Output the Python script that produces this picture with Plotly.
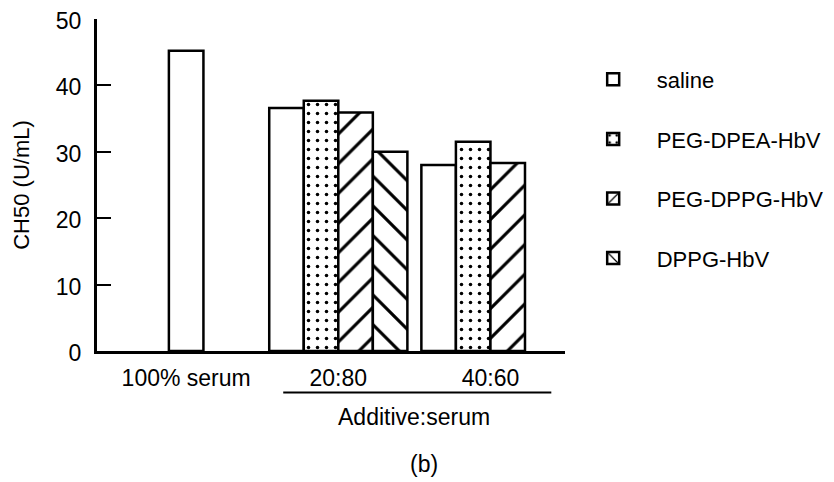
import plotly.graph_objects as go

categories = ["100% serum", "20:80", "40:60"]
series_names = ["saline", "PEG-DPEA-HbV", "PEG-DPPG-HbV", "DPPG-HbV"]
saline = [45.2, 36.6, 28.0]
peg_dpea_x = ["20:80", "40:60"]
peg_dpea = [37.7, 31.5]
peg_dppg_x = ["20:80", "40:60"]
peg_dppg = [35.9, 28.3]
dppg_x = ["20:80"]
dppg = [30.0]
y_ticks = [0, 10, 20, 30, 40, 50]

FONT = dict(family="Liberation Sans, Arial, sans-serif", size=23, color="black")
W = 0.227  # bar width in category units
LINE = dict(color="black", width=2.5)


def pat(shape, size, solidity):
    return dict(shape=shape, fgcolor="#000000", bgcolor="#ffffff", fgopacity=1,
                size=size, solidity=solidity, fillmode="replace")


fig = go.Figure()

sal_offsets = [-W / 2 if c == "100% serum" else -2 * W for c in categories]
fig.add_trace(go.Bar(
    x=categories, y=saline, name=series_names[0], width=W, offset=sal_offsets,
    marker=dict(color="white", line=LINE, opacity=1), legendgroup="a"))
fig.add_trace(go.Bar(
    x=peg_dpea_x, y=peg_dpea, name=series_names[1], width=W, offset=-W,
    marker=dict(color="white", line=LINE, opacity=1, pattern=pat(".", 9, 0.12)),
    legendgroup="b"))
fig.add_trace(go.Bar(
    x=peg_dppg_x, y=peg_dppg, name=series_names[2], width=W, offset=0,
    marker=dict(color="white", line=LINE, opacity=1, pattern=pat("/", 21, 0.15)),
    legendgroup="c"))
fig.add_trace(go.Bar(
    x=dppg_x, y=dppg, name=series_names[3], width=W, offset=W,
    marker=dict(color="white", line=LINE, opacity=1, pattern=pat("\\", 21, 0.15)),
    legendgroup="d"))

# page has an 8px body margin, so the figure is drawn 8px smaller and offset
fig.update_layout(
    width=826, height=474,
    margin=dict(l=89, r=269, t=11, b=130.5, autoexpand=False),
    paper_bgcolor="white", plot_bgcolor="white",
    font=FONT,
    barmode="overlay",
    showlegend=True,
    legend=dict(x=1.01, y=0.881, xanchor="left", yanchor="top",
                font=dict(size=22, color="black"), tracegroupgap=28, bgcolor="rgba(0,0,0,0)",
                itemwidth=77, traceorder="grouped"),
    xaxis=dict(type="category", categoryorder="array", categoryarray=categories,
               range=[-0.586, 2.49], showline=True, linecolor="black", linewidth=3,
               ticks="", showgrid=False, zeroline=False, tickfont=FONT, automargin=False,
               ticklabelstandoff=4),
    yaxis=dict(range=[0, 50], tickvals=y_ticks, showline=True, linecolor="black",
               linewidth=3, ticks="inside", ticklen=14, tickwidth=2, tickcolor="black",
               showgrid=False, zeroline=False, tickfont=FONT, automargin=False,
               ticklabelstandoff=8, ticklabeloverflow="allow", ticklabelshift=2,
               title=dict(text="CH50 (U/mL)", font=dict(size=22, color="black"), standoff=21)),
)

fig.add_shape(type="line", xref="x", yref="paper", x0=0.638, x1=2.40, y0=-0.125, y1=-0.125,
              line=dict(color="black", width=2))
fig.add_annotation(x=1.5, xref="x", y=-0.2, yref="paper", text="Additive:serum",
                   showarrow=False, font=FONT, yanchor="middle")
fig.add_annotation(x=0.733, xref="paper", y=-0.341, yref="paper", text="(b)",
                   showarrow=False, font=FONT, yanchor="middle")

fig.write_html("out.html")
